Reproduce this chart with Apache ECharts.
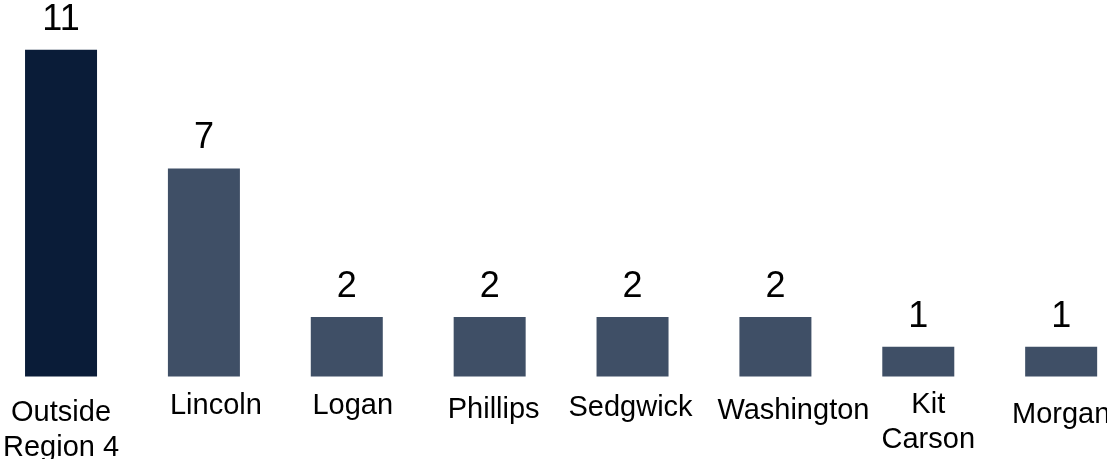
<!DOCTYPE html>
<html>
<head>
<meta charset="utf-8">
<script src="https://cdn.jsdelivr.net/npm/echarts@6/dist/echarts.min.js"></script>
<style>
	html, body { margin: 0; padding: 0; background: #fff; overflow: hidden; }
	#chart { width: 1107px; height: 459px; }
</style>
</head>
<body>
<div id="chart"></div>
<script>
const categories = ["Outside\nRegion 4", "Lincoln", "Logan", "Phillips", "Sedgwick", "Washington", "Kit\nCarson", "Morgan"]
const counts = [11, 7, 2, 2, 2, 2, 1, 1]

// label nudges [down, right] in px, the source labels are not evenly placed
const labelNudge = [[8, 0], [1, 12], [1, 6], [5, 4], [3, -2], [6, 18], [0, 10], [10, 0]]

const font = "'Liberation Sans', Arial, sans-serif"

let chartDom = document.getElementById("chart")
let chart = echarts.init(chartDom)

let xData = categories.map(function(name, i) {
	let down = labelNudge[i][0]
	let dx = labelNudge[i][1]
	return {
		value: name,
		textStyle: {
			lineHeight: 35,
			padding: [down, dx < 0 ? -2 * dx : 0, 0, dx > 0 ? 2 * dx : 0],
		},
	}
})

let option = {
	animation: false,
	grid: {
		left: -10.4,
		width: 1143,
		top: 20,
		bottom: 82.5,
		containLabel: false,
		outerBoundsMode: "none",
	},
	xAxis: {
		type: "category",
		data: xData,
		axisLine: { show: false },
		axisTick: { show: false },
		axisLabel: {
			interval: 0,
			margin: 11,
			hideOverlap: false,
			fontSize: 29,
			lineHeight: 35,
			color: "#000",
			fontFamily: font,
		},
	},
	yAxis: {
		type: "value",
		min: 0,
		max: 12,
		show: false,
		splitLine: { show: false },
	},
	series: [
		{
			type: "bar",
			data: counts,
			barWidth: 72,
			itemStyle: {
				color: function(p) {
					return p.dataIndex == 0 ? "#0a1c38" : "#3f4f66"
				},
			},
			label: {
				show: true,
				position: "top",
				distance: 12,
				fontSize: 36,
				color: "#000",
				fontFamily: font,
			},
		},
	],
}
chart.setOption(option)
</script>
</body>
</html>
